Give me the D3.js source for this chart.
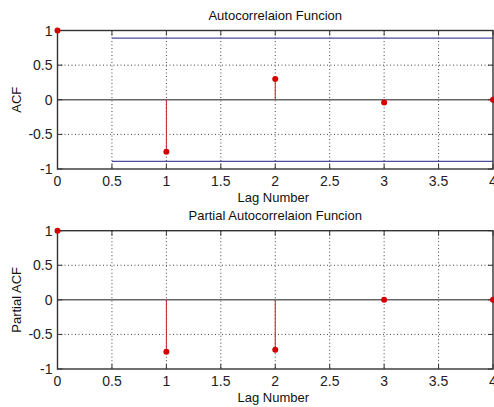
<!DOCTYPE html>
<html>
<head>
<meta charset="utf-8">
<script src="https://cdn.jsdelivr.net/npm/d3@7"></script>
<style>
  body { margin: 0; background: #fff; }
  svg { display: block; font-family: "Liberation Sans", Arial, sans-serif; }
</style>
</head>
<body>
<div id="chart"></div>
<script>
const lags = [0, 1, 2, 3, 4];
const acfValues = [1, -0.75, 0.30, -0.04, 0.0];
const pacfValues = [1, -0.75, -0.72, 0.0, 0.0];
const acfBounds = [0.89, -0.89];
const boundStart = 0.5;
const xTicks = [0, 0.5, 1, 1.5, 2, 2.5, 3, 3.5, 4];
const yTicks = [-1, -0.5, 0, 0.5, 1];

const W = 494, H = 407;
const left = 57.5, right = 493;

const svg = d3.select("#chart").append("svg")
    .attr("width", W)
    .attr("height", H);

const x = d3.scaleLinear().domain([0, 4]).range([left, right]);

function drawPanel(top, bottom, values, title, ylabel, bounds) {
    const y = d3.scaleLinear().domain([-1, 1]).range([bottom, top]);
    const g = svg.append("g");

    // dotted grid
    g.selectAll(".vgrid").data(xTicks.filter(d => d > 0 && d < 4)).enter()
        .append("line")
        .attr("x1", d => x(d)).attr("x2", d => x(d))
        .attr("y1", top).attr("y2", bottom)
        .attr("stroke", "#444").attr("stroke-width", 1)
        .attr("stroke-dasharray", "1,2.5");
    g.selectAll(".hgrid").data(yTicks.filter(d => d > -1 && d < 1 && d !== 0)).enter()
        .append("line")
        .attr("x1", left).attr("x2", right)
        .attr("y1", d => y(d)).attr("y2", d => y(d))
        .attr("stroke", "#444").attr("stroke-width", 1)
        .attr("stroke-dasharray", "1,2.5");

    // zero line
    g.append("line")
        .attr("x1", left).attr("x2", right)
        .attr("y1", y(0)).attr("y2", y(0))
        .attr("stroke", "#666").attr("stroke-width", 1.5);

    // confidence bounds
    if (bounds) {
        g.selectAll(".bound").data(bounds).enter()
            .append("line")
            .attr("x1", x(boundStart)).attr("x2", right)
            .attr("y1", d => y(d)).attr("y2", d => y(d))
            .attr("stroke", "#4d4d9e").attr("stroke-width", 1.2);
    }

    // stems (lines under the box)
    g.selectAll(".stem").data(lags).enter()
        .append("line")
        .attr("x1", d => x(d)).attr("x2", d => x(d))
        .attr("y1", y(0)).attr("y2", (d, i) => y(values[i]))
        .attr("stroke", "#c8202a").attr("stroke-width", 1);

    // box
    g.append("rect")
        .attr("x", left).attr("y", top)
        .attr("width", right - left).attr("height", bottom - top)
        .attr("fill", "none").attr("stroke", "#333").attr("stroke-width", 1.4);

    // inward ticks on all sides
    const tl = 5;
    xTicks.forEach(t => {
        g.append("line").attr("x1", x(t)).attr("x2", x(t))
            .attr("y1", bottom).attr("y2", bottom - tl).attr("stroke", "#333");
        g.append("line").attr("x1", x(t)).attr("x2", x(t))
            .attr("y1", top).attr("y2", top + tl).attr("stroke", "#333");
    });
    yTicks.forEach(t => {
        g.append("line").attr("x1", left).attr("x2", left + tl)
            .attr("y1", y(t)).attr("y2", y(t)).attr("stroke", "#333");
        g.append("line").attr("x1", right).attr("x2", right - tl)
            .attr("y1", y(t)).attr("y2", y(t)).attr("stroke", "#333");
    });

    // markers
    g.selectAll(".marker").data(lags).enter()
        .append("circle")
        .attr("cx", d => x(d)).attr("cy", (d, i) => y(values[i]))
        .attr("r", 3)
        .attr("fill", "#d40000");

    // tick labels
    g.selectAll(".xlab").data(xTicks).enter()
        .append("text")
        .attr("x", d => x(d)).attr("y", bottom + 17)
        .attr("text-anchor", "middle")
        .attr("font-size", 14).attr("fill", "#222")
        .text(d => d);
    g.selectAll(".ylab").data(yTicks).enter()
        .append("text")
        .attr("x", left - 5).attr("y", d => y(d))
        .attr("dy", "0.36em")
        .attr("text-anchor", "end")
        .attr("font-size", 14).attr("fill", "#222")
        .text(d => d);

    // titles
    g.append("text")
        .attr("x", (left + right) / 2).attr("y", top - 10.5)
        .attr("text-anchor", "middle")
        .attr("font-size", 13).attr("fill", "#111")
        .text(title);
    g.append("text")
        .attr("x", (left + right) / 2 - 2).attr("y", bottom + 33)
        .attr("text-anchor", "middle")
        .attr("font-size", 13).attr("fill", "#111")
        .text("Lag Number");
    g.append("text")
        .attr("transform", `translate(21,${(top + bottom) / 2}) rotate(-90)`)
        .attr("text-anchor", "middle")
        .attr("font-size", 13).attr("fill", "#111")
        .text(ylabel);
}

drawPanel(30.5, 169, acfValues, "Autocorrelaion Funcion", "ACF", acfBounds);
drawPanel(230.7, 369, pacfValues, "Partial Autocorrelaion Funcion", "Partial ACF", null);
</script>
</body>
</html>
